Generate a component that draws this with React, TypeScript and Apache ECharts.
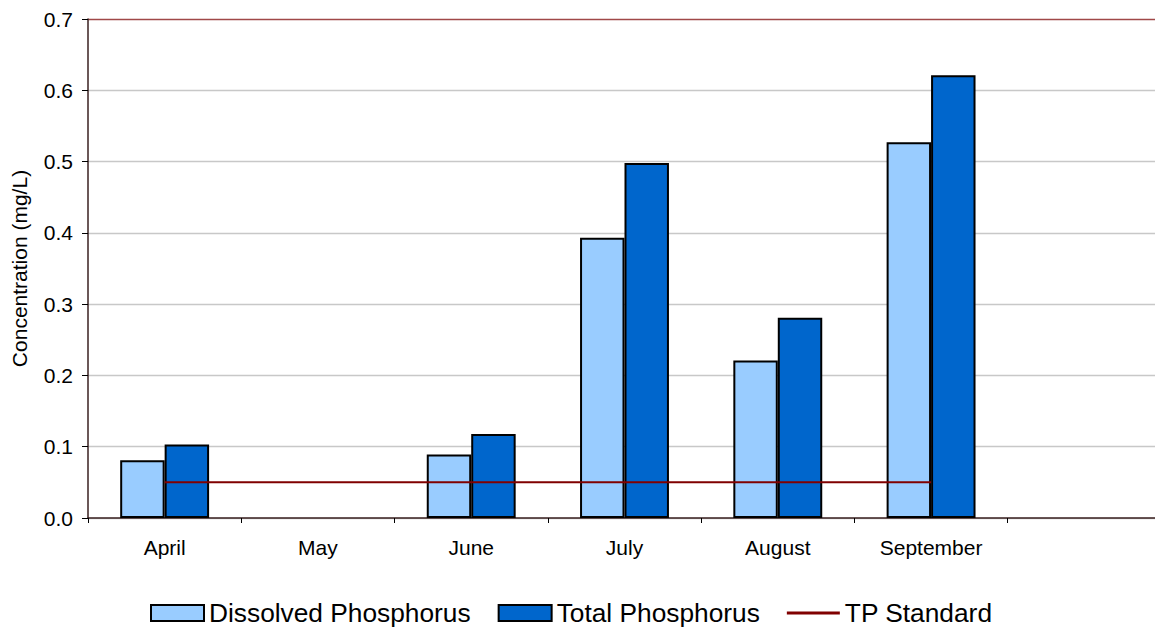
import React, { useEffect, useRef } from "react";
import * as echarts from "echarts";

const months = ["April", "May", "June", "July", "August", "September", ""];
const dissolvedP = [0.081, null, 0.089, 0.393, 0.221, 0.527, null];
const totalP = [0.103, null, 0.118, 0.498, 0.281, 0.621, null];
const tpStandard = [0.05, 0.05, 0.05, 0.05, 0.05, 0.05, null];

const FONT = "'Liberation Sans', Arial, sans-serif";

export default function App() {
  const ref = useRef<HTMLDivElement>(null);

  useEffect(() => {
    if (!ref.current) return;
    const chart = echarts.init(ref.current, undefined, { renderer: "svg" });
    const gridLines = ["#c8c8c8", "#c8c8c8", "#c8c8c8", "#c8c8c8", "#c8c8c8", "#c8c8c8", "#c8c8c8", "#a04848"];
    chart.setOption({
      animation: false,
      backgroundColor: "#ffffff",
      textStyle: { fontFamily: FONT },
      grid: { left: 88, top: 19, bottom: 109, width: 1073, outerBoundsMode: "none", containLabel: false },
      legend: {
        left: 145,
        bottom: -4,
        itemWidth: 53,
        itemHeight: 16,
        itemGap: 27,
        textStyle: { fontSize: 26.3, color: "#000", fontFamily: FONT },
        data: [
          { name: "Dissolved Phosphorus", icon: "rect" },
          { name: "Total Phosphorus", icon: "rect" },
          { name: "TP Standard", icon: "path://M0,0 H50 V3 H0 Z" },
        ],
      },
      xAxis: {
        type: "category",
        data: months,
        axisLine: { lineStyle: { color: "#3a2020", width: 1.5 } },
        axisTick: { show: true, interval: 0, length: 5, alignWithLabel: false, lineStyle: { color: "#000" } },
        axisLabel: { fontSize: 21, color: "#000", margin: 19, interval: 0, fontFamily: FONT },
        splitLine: { show: false },
      },
      yAxis: {
        type: "value",
        min: 0,
        max: 0.7,
        interval: 0.1,
        name: "Concentration (mg/L)",
        nameLocation: "middle",
        nameGap: 58,
        nameTextStyle: { fontSize: 21, color: "#000", fontFamily: FONT },
        axisLine: { show: true, lineStyle: { color: "#3a2020", width: 1.5 } },
        axisTick: { show: true, length: 6, lineStyle: { color: "#000" } },
        axisLabel: {
          fontSize: 21,
          color: "#000",
          margin: 15,
          fontFamily: FONT,
          formatter: (v: number) => v.toFixed(1),
        },
        splitLine: { show: true, lineStyle: { color: gridLines, width: 1.3 } },
      },
      series: [
        {
          name: "Dissolved Phosphorus",
          type: "bar",
          data: dissolvedP,
          barGap: "0%",
          barCategoryGap: "42%",
          itemStyle: { color: "#99ccff", borderColor: "#000", borderWidth: 2 },
        },
        {
          name: "Total Phosphorus",
          type: "bar",
          data: totalP,
          barGap: "0%",
          barCategoryGap: "42%",
          itemStyle: { color: "#0066cc", borderColor: "#000", borderWidth: 2 },
        },
        {
          name: "TP Standard",
          type: "line",
          data: tpStandard,
          symbol: "none",
          z: 5,
          lineStyle: { color: "#800000", width: 2 },
          itemStyle: { color: "#800000" },
        },
      ],
    });
    return () => chart.dispose();
  }, []);

  return (
    <div
      ref={ref}
      style={{ position: "fixed", left: 0, top: 0, width: 1155, height: 627, background: "#fff" }}
    />
  );
}
